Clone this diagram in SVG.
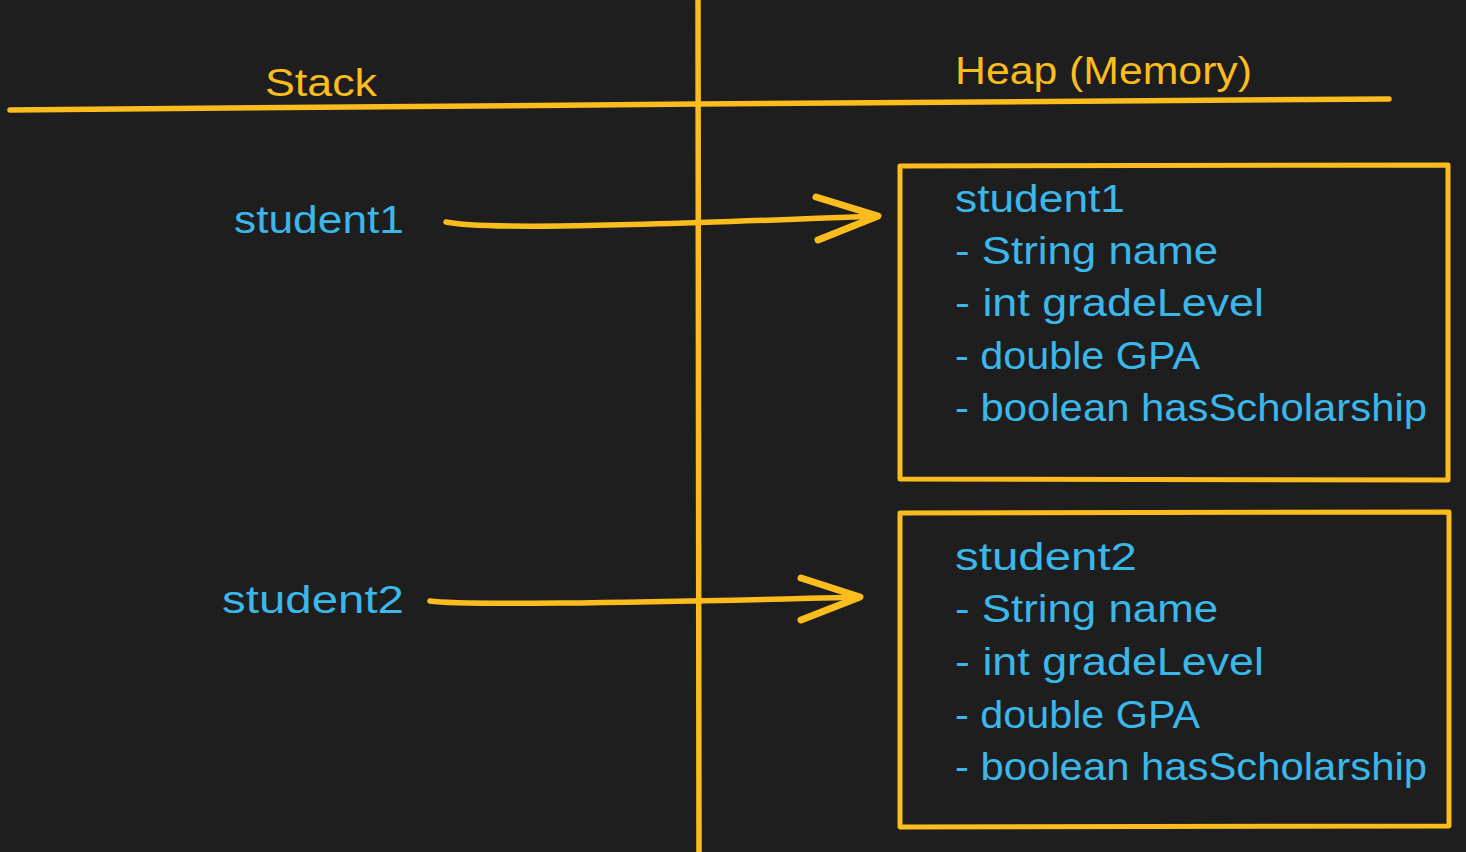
<svg xmlns="http://www.w3.org/2000/svg" width="1466" height="852" viewBox="0 0 1466 852">
  <style>
    .bg { fill: #1e1e1e; }
    .ink { fill: none; stroke: #fbbc1d; stroke-width: 5.5; stroke-linecap: round; stroke-linejoin: round; }
    .head { fill: none; stroke: #fbbc1d; stroke-width: 7; stroke-linecap: round; stroke-linejoin: round; }
    .box { fill: none; stroke: #fbbc1d; stroke-width: 5; stroke-linecap: round; stroke-linejoin: round; }
    .title { fill: #fbbc1d; font-family: "Liberation Sans", "DejaVu Sans", sans-serif; font-size: 38px; }
    .label { fill: #3bb7ea; font-family: "Liberation Sans", "DejaVu Sans", sans-serif; font-size: 38px; }
  </style>

  <rect class="bg" x="0" y="0" width="1466" height="852"/>

  <!-- axes dividing stack and heap -->
  <g id="dividers">
    <path class="ink" d="M10 110 Q 400 106 698 104 T 1389 99"/>
    <path class="ink" d="M698 0 Q 699 420 699 852"/>
  </g>

  <g id="stack-title">
    <text class="title" x="265" y="96" textLength="112" lengthAdjust="spacingAndGlyphs">Stack</text>
  </g>
  <g id="heap-title">
    <text class="title" x="955" y="84" textLength="297" lengthAdjust="spacingAndGlyphs">Heap (Memory)</text>
  </g>

  <!-- stack references -->
  <g id="ref-student1">
    <text class="label" x="234" y="233" textLength="170" lengthAdjust="spacingAndGlyphs">student1</text>
  </g>
  <g id="ref-student2">
    <text class="label" x="222" y="613" textLength="182" lengthAdjust="spacingAndGlyphs">student2</text>
  </g>

  <!-- heap objects -->
  <g id="obj-student1">
    <path class="box" d="M900 166 L1448 165 L1448 480 L900 479 Z"/>
    <text class="label" x="955" y="212" textLength="170" lengthAdjust="spacingAndGlyphs">student1</text>
    <text class="label" x="955" y="264" textLength="263" lengthAdjust="spacingAndGlyphs">- String name</text>
    <text class="label" x="955" y="316" textLength="309" lengthAdjust="spacingAndGlyphs">- int gradeLevel</text>
    <text class="label" x="955" y="369" textLength="245" lengthAdjust="spacingAndGlyphs">- double GPA</text>
    <text class="label" x="955" y="421" textLength="472" lengthAdjust="spacingAndGlyphs">- boolean hasScholarship</text>
  </g>
  <g id="obj-student2">
    <path class="box" d="M900 513 L1449 512 L1449 826 L900 827 Z"/>
    <text class="label" x="955" y="570" textLength="182" lengthAdjust="spacingAndGlyphs">student2</text>
    <text class="label" x="955" y="622" textLength="263" lengthAdjust="spacingAndGlyphs">- String name</text>
    <text class="label" x="955" y="675" textLength="309" lengthAdjust="spacingAndGlyphs">- int gradeLevel</text>
    <text class="label" x="955" y="728" textLength="245" lengthAdjust="spacingAndGlyphs">- double GPA</text>
    <text class="label" x="955" y="780" textLength="472" lengthAdjust="spacingAndGlyphs">- boolean hasScholarship</text>
  </g>

  <!-- pointers from stack variables to heap objects -->
  <g id="connectors">
    <path class="ink" d="M446 222 Q 470 227 560 226 T 878 216"/>
    <path class="head" d="M816 197 L878 216 L818 240"/>
    <path class="ink" d="M430 601 Q 450 604 560 603 T 860 597"/>
    <path class="head" d="M801 578 L860 597 L801 620"/>
  </g>
</svg>
